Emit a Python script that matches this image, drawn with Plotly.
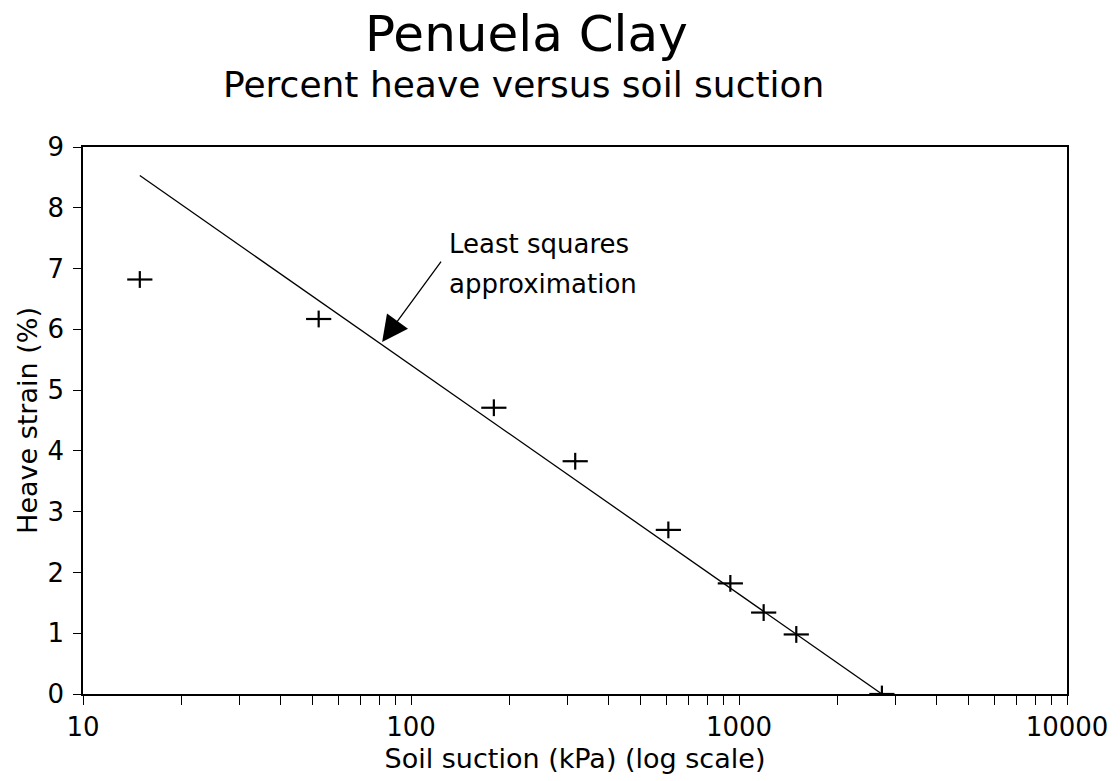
import plotly.graph_objects as go

suction_kpa = [14.9, 52.3, 178.9, 316.7, 609, 941, 1189, 1495, 2727]
heave_pct = [6.82, 6.17, 4.71, 3.83, 2.70, 1.82, 1.34, 0.98, 0.0]

# Линия МНК: концы отрезка
fit_x = [14.9, 2727]
fit_y = [8.53, 0.0]

x_tickvals = [10, 100, 1000, 10000]
x_ticktext = ["10", "100", "1000", "10000"]

FONT = "DejaVu Sans"

fig = go.Figure()
fig.add_trace(go.Scatter(
    x=fit_x, y=fit_y, mode="lines",
    line=dict(color="black", width=1.3), hoverinfo="skip",
))
# крестики в оригинале шире, чем выше, поэтому из двух штрихов
fig.add_trace(go.Scatter(
    x=suction_kpa, y=heave_pct, mode="markers",
    marker=dict(symbol="line-ew-open", size=18, color="black",
                line=dict(color="black", width=2.2)),
))
fig.add_trace(go.Scatter(
    x=suction_kpa, y=heave_pct, mode="markers",
    marker=dict(symbol="line-ns-open", size=12, color="black",
                line=dict(color="black", width=2.2)),
))

fig.update_layout(
    width=1120, height=781,
    margin=dict(l=83, r=52, t=147, b=84),
    paper_bgcolor="white", plot_bgcolor="white",
    showlegend=False,
    font=dict(family=FONT, size=26, color="black"),
    xaxis=dict(
        type="log", range=[1, 4],
        tickvals=x_tickvals, ticktext=x_ticktext,
        ticks="outside", ticklen=9, tickwidth=1.3, tickcolor="black",
        minor=dict(ticks="outside", ticklen=9, tickwidth=1.3, tickcolor="black",
                   dtick="D1", showgrid=False),
        showline=True, linecolor="black", linewidth=1.6, mirror=True,
        showgrid=False, zeroline=False,
        tickfont=dict(size=26),
        title=dict(text="Soil suction (kPa) (log scale)", font=dict(size=27), standoff=8),
    ),
    yaxis=dict(
        range=[0, 9], dtick=1,
        ticks="outside", ticklen=8, tickwidth=1.3, tickcolor="black",
        showline=True, linecolor="black", linewidth=1.6, mirror=True,
        showgrid=False, zeroline=False,
        tickfont=dict(size=26), ticklabelstandoff=4,
        title=dict(text="Heave strain (%)", font=dict(size=27), standoff=2),
    ),
    annotations=[
        dict(text="Penuela Clay", xref="paper", yref="paper", x=0.4508, y=1.206,
             xanchor="center", yanchor="middle", showarrow=False,
             font=dict(size=50)),
        dict(text="Percent heave versus soil suction", xref="paper", yref="paper",
             x=0.4478, y=1.114, xanchor="center", yanchor="middle", showarrow=False,
             font=dict(size=36)),
        dict(text="Least squares", xref="paper", yref="paper", x=0.3695, y=0.822,
             xanchor="left", yanchor="middle", showarrow=False, font=dict(size=26)),
        dict(text="approximation", xref="paper", yref="paper", x=0.3695, y=0.750,
             xanchor="left", yanchor="middle", showarrow=False, font=dict(size=26)),
        # стрелка к линии
        dict(text="", x=1.912, y=5.79, xref="x", yref="y",
             ax=60, ay=-82, showarrow=True,
             arrowhead=2, arrowsize=4, arrowwidth=1.3, arrowcolor="black", standoff=0),
    ],
)

# убираем стандартный отступ body, чтобы фигура встала ровно в окно
fig.write_html("out.html", config={"displayModeBar": False},
               post_script="document.body.style.margin='0px';")
